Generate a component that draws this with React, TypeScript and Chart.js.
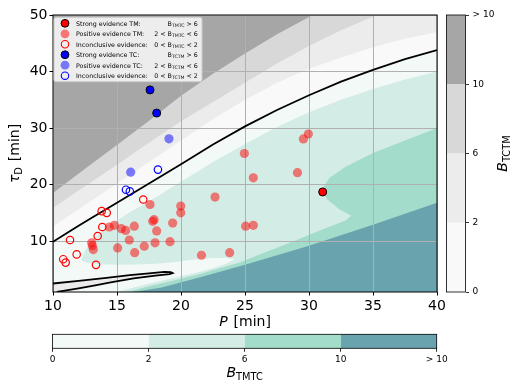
import React, { useEffect, useRef } from 'react';
import { Chart, registerables } from 'chart.js';

Chart.register(...registerables);

type Pt = [number, number];

/* ---------------- axes ---------------- */
const pTicks = [10, 15, 20, 25, 30, 35, 40];
const tauTicks = [10, 20, 30, 40, 50];
const pLimits = [10, 40];
const tauLimits = [1, 50];

/* ---------------- colour bars ---------------- */
const tctmLevelLabels = ['0', '2', '6', '10', '> 10'];
const tmtcLevelLabels = ['0', '2', '6', '10', '> 10'];
const levelSteps = [1, 1, 1, 1];
const tctmColors = ['#f9f9f9', '#ececec', '#d8d8d8', '#a6a6a6'];
const tmtcColors = ['#f2f9f7', '#d3ece5', '#a3dccb', '#68a3ae'];

/* ---------------- contour boundaries (P [min], tau_D [min]) ---------------- */
const equalEvidence: Pt[] = [[10, 9.9], [11, 11.3], [12, 12.7], [13, 14.1], [15, 16.8], [17.5, 20.2], [20, 23.6], [22.5, 27.1], [25, 30.3], [27.5, 33.2], [30, 35.8], [32.5, 38.2], [35, 40.3], [37.5, 42.2], [40, 43.8]];
const tctm2: Pt[] = [[10, 12.6], [12.5, 16.4], [15, 20.2], [17.5, 24.0], [20, 27.8], [22.5, 31.6], [25, 35.0], [27.5, 38.0], [30, 40.5], [32.5, 42.5], [35, 44.3], [37.5, 45.8], [40, 47.0]];
const tctm6: Pt[] = [[10, 15.9], [12.5, 19.7], [15, 23.5], [17.5, 27.4], [20, 31.2], [22.5, 34.6], [25, 38.0], [27.5, 41.4], [30, 44.5], [32.5, 47.3], [35.3, 50]];
const tctm10: Pt[] = [[10, 18.5], [12.5, 22.8], [15, 27.0], [17.5, 31.3], [20, 35.7], [22.5, 39.6], [25, 43.2], [27.5, 46.6], [30.3, 50]];
const tmtc2Upper: Pt[] = [[12.2, 6.6], [12.35, 7.6], [12.6, 8.7], [13.0, 9.9], [13.6, 11.3], [14.3, 12.7], [15, 13.6], [16, 15.1], [17.5, 17.0], [20, 20.5], [22.5, 24.0], [25, 27.2], [27.5, 30.2], [30, 32.8], [32.5, 35.0], [35, 36.9], [37.5, 38.6], [40, 40.0]];
const tmtc2Lower: Pt[] = [[12.2, 6.6], [12.6, 6.2], [13.5, 5.95], [15, 5.8], [16.5, 5.85], [18, 6.0], [19.5, 6.3], [21, 6.75], [22.5, 7.0], [23.5, 7.0], [24.2, 6.8]];
const tmtc2Pocket: Pt[] = [[15, 1], [15.5, 1.3], [17, 2.2], [18.5, 3.0], [20, 3.8], [21.5, 4.6], [22.5, 5.2], [23.5, 6.0], [24.2, 6.8]];
const tmtc6: Pt[] = [[15.8, 1], [17.5, 2.0], [19.5, 3.1], [21.5, 4.2], [23, 5.2], [24.6, 6.2], [25.9, 7.4], [28.5, 9.7], [31.1, 12.1], [32.9, 13.7], [33.3, 14.5], [32.4, 15.6], [31.4, 17.4], [31.0, 19.1], [31.6, 21.2], [32.9, 23.2], [35.0, 25.6], [37.6, 27.9], [40, 30.0]];
const tmtc10: Pt[] = [[16.3, 1], [18.5, 1.8], [21.5, 3.6], [25, 5.8], [30, 9.2], [35, 12.9], [40, 16.8]];
const lensContour: Pt[] = [[10, 2.5], [12, 2.95], [14, 3.45], [16, 3.98], [17.5, 4.3], [18.7, 4.55], [19.2, 4.52], [19.35, 4.35], [19.1, 4.15], [18, 3.9], [16.3, 3.42], [14.5, 2.7], [13.4, 2.22], [12, 1.65], [10.8, 1.2], [10.3, 1.0]];

/* ---------------- observations (P [min], tau_D [min]) ---------------- */
const strongTM: Pt[] = [[31.07, 18.7]];
const positiveTM: Pt[] = [
  [17.58, 16.48], [19.98, 16.2], [19.98, 15.0], [17.79, 13.5], [17.9, 13.8], [19.35, 13.2],
  [18.1, 11.8], [16.35, 12.65], [15.34, 12.2], [15.68, 11.9], [14.79, 12.8], [14.4, 12.5],
  [15.96, 10.2], [17.97, 9.7], [19.14, 9.9], [17.13, 9.1], [15.05, 8.8], [16.38, 7.95],
  [13.02, 9.7], [13.07, 9.2], [13.15, 8.5], [21.6, 7.5], [23.8, 7.95], [22.66, 17.8],
  [24.95, 25.5], [25.05, 12.65], [25.65, 12.8], [29.95, 28.95], [29.56, 28.07], [25.65, 21.2], [29.1, 22.1],
];
const inconclusiveTM: Pt[] = [
  [17.05, 17.36], [13.8, 15.3], [14.2, 15.0], [13.85, 12.5], [13.49, 10.9],
  [11.33, 10.2], [11.85, 7.65], [10.8, 6.8], [10.99, 6.2], [13.36, 5.8],
];
const strongTC: Pt[] = [[17.58, 36.75], [18.1, 32.65]];
const positiveTC: Pt[] = [[19.06, 28.1], [16.07, 22.2]];
const inconclusiveTC: Pt[] = [[18.2, 22.65], [15.7, 19.1], [16.0, 18.8]];

/* ---------------- legend text ---------------- */
const legendLabels = [
  'Strong evidence TM:', 'Positive evidence TM:', 'Inconclusive evidence:',
  'Strong evidence TC:', 'Positive evidence TC:', 'Inconclusive evidence:',
];
const legendConditions: [string, string, string][] = [
  ['', 'TMTC', ' > 6'], ['2 < ', 'TMTC', ' < 6'], ['0 < ', 'TMTC', ' < 2'],
  ['', 'TCTM', ' > 6'], ['2 < ', 'TCTM', ' < 6'], ['0 < ', 'TCTM', ' < 2'],
];

/* ---------------- helpers ---------------- */
const FONT = "'DejaVu Sans', sans-serif";
Chart.defaults.font.family = FONT;
Chart.defaults.color = '#000';

type Run = { t: string; size: number; italic?: boolean; dy?: number; dx?: number };
const fontOf = (r: Run) => `${r.italic ? 'italic ' : ''}${r.size}px ${FONT}`;
function drawRuns(ctx: CanvasRenderingContext2D, runs: Run[], x: number, y: number, align: 'left' | 'center' | 'right') {
  let total = 0;
  const ws = runs.map((r) => {
    ctx.font = fontOf(r);
    const w = ctx.measureText(r.t).width + (r.dx || 0);
    total += w;
    return w;
  });
  let cx = align === 'left' ? x : align === 'center' ? x - total / 2 : x - total;
  ctx.textBaseline = 'alphabetic';
  ctx.textAlign = 'left';
  runs.forEach((r, i) => {
    ctx.font = fontOf(r);
    ctx.fillText(r.t, cx + (r.dx || 0), y + (r.dy || 0));
    cx += ws[i];
  });
}

const toXY = (pts: Pt[]) => pts.map(([x, y]) => ({ x, y }));

function region(pts: Pt[], color: string, order: number) {
  return {
    type: 'line',
    data: toXY(pts),
    backgroundColor: color,
    borderColor: 'rgba(0,0,0,0)',
    borderWidth: 0,
    pointRadius: 0,
    pointHoverRadius: 0,
    tension: 0,
    fill: 'shape',
    order,
  };
}

function contourLine(pts: Pt[], order: number) {
  return {
    type: 'line',
    data: toXY(pts),
    borderColor: '#000',
    borderWidth: 1.8,
    pointRadius: 0,
    pointHoverRadius: 0,
    tension: 0,
    fill: false,
    order,
  };
}

function markers(pts: Pt[], fillColor: string, edgeColor: string, edge: number, radius: number, order: number) {
  return {
    type: 'scatter',
    data: toXY(pts),
    backgroundColor: fillColor,
    borderColor: edgeColor,
    borderWidth: edge,
    pointRadius: radius,
    pointHoverRadius: radius,
    order,
  };
}

const legendMarkerStyles = [
  { fill: '#ff0000', edge: '#000', lw: 1, r: 3.9 },
  { fill: 'rgba(255,0,0,0.5)', edge: '', lw: 0, r: 4.4 },
  { fill: '', edge: '#ff0000', lw: 1.1, r: 3.7 },
  { fill: '#0000ff', edge: '#000', lw: 1, r: 3.9 },
  { fill: 'rgba(0,0,255,0.5)', edge: '', lw: 0, r: 4.4 },
  { fill: '', edge: '#0000ff', lw: 1.1, r: 3.7 },
];

const mainDecor = {
  id: 'mainDecor',
  afterDraw(chart: any) {
    const { ctx, chartArea: a } = chart;
    ctx.save();
    ctx.strokeStyle = '#000';
    ctx.lineWidth = 1;
    ctx.strokeRect(a.left, a.top, a.right - a.left, a.bottom - a.top);
    ctx.fillStyle = '#000';
    // x title
    drawRuns(ctx, [{ t: 'P', size: 14, italic: true }, { t: ' [min]', size: 14, dx: 1.5 }], (a.left + a.right) / 2, 326, 'center');
    // y title
    ctx.save();
    ctx.translate(19, (a.top + a.bottom) / 2);
    ctx.rotate(-Math.PI / 2);
    drawRuns(ctx, [{ t: 'τ', size: 14, italic: true }, { t: 'D', size: 9.8, dy: 3 }, { t: ' [min]', size: 14, dx: 1.5 }], 0, 0, 'center');
    ctx.restore();

    // legend
    const bx = a.left + 1, by = a.top + 2.3, bw = 148, bh = 64.4;
    ctx.beginPath();
    ctx.roundRect(bx, by, bw, bh, 2);
    ctx.fillStyle = 'rgba(255,255,255,0.8)';
    ctx.fill();
    ctx.strokeStyle = '#cccccc';
    ctx.lineWidth = 1;
    ctx.stroke();
    legendLabels.forEach((label, i) => {
      const cy = by + 6 + i * 10.48;
      const s = legendMarkerStyles[i];
      ctx.beginPath();
      ctx.arc(bx + 11, cy, s.r, 0, Math.PI * 2);
      if (s.fill) { ctx.fillStyle = s.fill; ctx.fill(); }
      if (s.lw > 0) { ctx.strokeStyle = s.edge; ctx.lineWidth = s.lw; ctx.stroke(); }
      ctx.fillStyle = '#000';
      drawRuns(ctx, [{ t: label, size: 6.3 }], bx + 22, cy + 2.3, 'left');
      const [pre, sub, post] = legendConditions[i];
      drawRuns(ctx, [
        { t: pre + 'B', size: 6.3 },
        { t: sub, size: 4.6, dy: 1.4 },
        { t: post, size: 6.3 },
      ], bx + bw - 4.3, cy + 2.3, 'left' === 'left' ? 'right' : 'right');
    });
    ctx.restore();
  },
};

const frameOnly = (id: string, title: Run[], tx: number, ty: number, rotate: boolean) => ({
  id,
  afterDraw(chart: any) {
    const { ctx, chartArea: a } = chart;
    ctx.save();
    ctx.strokeStyle = '#000';
    ctx.lineWidth = 0.8;
    ctx.strokeRect(a.left, a.top, a.right - a.left, a.bottom - a.top);
    ctx.fillStyle = '#000';
    ctx.translate(tx, ty);
    if (rotate) ctx.rotate(-Math.PI / 2);
    drawRuns(ctx, title, 0, 0, 'center');
    ctx.restore();
  },
});

export default function App() {
  const mainRef = useRef<HTMLCanvasElement>(null);
  const rightRef = useRef<HTMLCanvasElement>(null);
  const bottomRef = useRef<HTMLCanvasElement>(null);

  useEffect(() => {
    const tickFont = { size: 14, family: FONT };
    const gridBase = { color: '#b0b0b0', lineWidth: 1, tickLength: 3.5, tickColor: '#000', tickWidth: 1 };

    const datasets: any[] = [
      region([[pLimits[0], tauLimits[0]], [pLimits[0], tauLimits[1]], [pLimits[1], tauLimits[1]], [pLimits[1], tauLimits[0]]], tmtcColors[0], 40),
      region([[pLimits[0], tauLimits[1]], ...equalEvidence, [pLimits[1], tauLimits[1]]], tctmColors[0], 39),
      region([[pLimits[0], tauLimits[1]], ...tctm2, [pLimits[1], tauLimits[1]]], tctmColors[1], 38),
      region([[pLimits[0], tauLimits[1]], ...tctm6], tctmColors[2], 37),
      region([[pLimits[0], tauLimits[1]], ...tctm10], tctmColors[3], 36),
      region([...tmtc2Upper, [pLimits[1], tauLimits[0]], ...tmtc2Pocket, ...tmtc2Lower.slice(0, -1).reverse()], tmtcColors[1], 35),
      region([...tmtc6, [pLimits[1], tauLimits[0]]], tmtcColors[2], 34),
      region([...tmtc10, [pLimits[1], tauLimits[0]]], tmtcColors[3], 33),
      region([[pLimits[0], tauLimits[0]], ...lensContour], tctmColors[1], 32),
      contourLine(equalEvidence, 10),
      contourLine(lensContour, 9),
      markers(positiveTM, 'rgba(255,0,0,0.5)', 'rgba(0,0,0,0)', 0, 4.6, 6),
      markers(inconclusiveTM, 'rgba(0,0,0,0)', '#ff0000', 1.2, 3.7, 5),
      markers(positiveTC, 'rgba(0,0,255,0.5)', 'rgba(0,0,0,0)', 0, 4.6, 4),
      markers(inconclusiveTC, 'rgba(0,0,0,0)', '#0000ff', 1.2, 3.7, 3),
      markers(strongTC, '#0000ff', '#000', 1, 4, 2),
      markers(strongTM, '#ff0000', '#000', 1, 4, 1),
    ];

    const main = new Chart(mainRef.current!, {
      type: 'line',
      data: { datasets },
      options: {
        responsive: false,
        animation: false,
        devicePixelRatio: 1,
        events: [],
        layout: { padding: { left: 0, right: 83, top: 15, bottom: 0 } },
        plugins: {
          legend: { display: false },
          tooltip: { enabled: false },
          filler: { drawTime: 'beforeDraw', propagate: false },
        },
        scales: {
          x: {
            type: 'linear',
            min: pLimits[0],
            max: pLimits[1],
            afterBuildTicks: (s: any) => { s.ticks = pTicks.map((v) => ({ value: v })); },
            afterFit: (s: any) => { s.height = 98; },
            ticks: { font: tickFont, color: '#000', padding: 2.5, maxRotation: 0, autoSkip: false },
            grid: gridBase,
            border: { display: false },
          },
          y: {
            type: 'linear',
            min: tauLimits[0],
            max: tauLimits[1],
            afterBuildTicks: (s: any) => { s.ticks = tauTicks.map((v) => ({ value: v })); },
            afterFit: (s: any) => { s.width = 53; },
            ticks: { font: tickFont, color: '#000', padding: 2 },
            grid: gridBase,
            border: { display: false },
          },
        },
      } as any,
      plugins: [mainDecor],
    });

    const cbTickFont = { size: 9, family: FONT };
    const cbGrid = { drawOnChartArea: false, tickLength: 3.5, tickColor: '#000', tickWidth: 0.8 };

    const right = new Chart(rightRef.current!, {
      type: 'bar',
      data: {
        labels: [''],
        datasets: tctmColors.map((c, i) => ({
          data: [levelSteps[i]],
          backgroundColor: c,
          borderWidth: 0,
          barPercentage: 1,
          categoryPercentage: 1,
        })),
      },
      options: {
        responsive: false,
        animation: false,
        devicePixelRatio: 1,
        events: [],
        layout: { padding: { left: 6.5, right: 0, top: 15, bottom: 98 } },
        plugins: { legend: { display: false }, tooltip: { enabled: false } },
        scales: {
          x: { display: false, stacked: true },
          y: {
            position: 'right',
            stacked: true,
            min: 0,
            max: levelSteps.length,
            afterBuildTicks: (s: any) => { s.ticks = tctmLevelLabels.map((_, i) => ({ value: i })); },
            afterFit: (s: any) => { s.width = 54.5; },
            ticks: { font: cbTickFont, color: '#000', padding: 3.5, callback: (_v: any, i: number) => tctmLevelLabels[i] },
            grid: cbGrid,
            border: { display: false },
          },
        },
      } as any,
      plugins: [frameOnly('rightFrame', [{ t: 'B', size: 14, italic: true }, { t: 'TCTM', size: 9.8, dy: 3 }], 67, 153.5, true)],
    });

    const bottom = new Chart(bottomRef.current!, {
      type: 'bar',
      data: {
        labels: [''],
        datasets: tmtcColors.map((c, i) => ({
          data: [levelSteps[i]],
          backgroundColor: c,
          borderWidth: 0,
          barPercentage: 1,
          categoryPercentage: 1,
        })),
      },
      options: {
        indexAxis: 'y',
        responsive: false,
        animation: false,
        devicePixelRatio: 1,
        events: [],
        layout: { padding: { left: 52.5, right: 83.3, top: 14.3, bottom: 0 } },
        plugins: { legend: { display: false }, tooltip: { enabled: false } },
        scales: {
          y: { display: false, stacked: true },
          x: {
            position: 'bottom',
            stacked: true,
            min: 0,
            max: levelSteps.length,
            afterBuildTicks: (s: any) => { s.ticks = tmtcLevelLabels.map((_, i) => ({ value: i })); },
            afterFit: (s: any) => { s.height = 41.7; },
            ticks: { font: cbTickFont, color: '#000', padding: 2, maxRotation: 0, autoSkip: false, callback: (_v: any, i: number) => tmtcLevelLabels[i] },
            grid: cbGrid,
            border: { display: false },
          },
        },
      } as any,
      plugins: [frameOnly('bottomFrame', [{ t: 'B', size: 14, italic: true }, { t: 'TMTC', size: 9.8, dy: 3 }], 244.6, 56.5, false)],
    });

    return () => {
      main.destroy();
      right.destroy();
      bottom.destroy();
    };
  }, []);

  return (
    <div style={{ position: 'fixed', left: 0, top: 0, width: 520, height: 390, background: '#fff' }}>
      <canvas ref={mainRef} width={520} height={390} style={{ position: 'absolute', left: 0, top: 0, width: 520, height: 390 }} />
      <canvas ref={rightRef} width={80} height={390} style={{ position: 'absolute', left: 440, top: 0, width: 80, height: 390 }} />
      <canvas ref={bottomRef} width={520} height={70} style={{ position: 'absolute', left: 0, top: 320, width: 520, height: 70 }} />
    </div>
  );
}
